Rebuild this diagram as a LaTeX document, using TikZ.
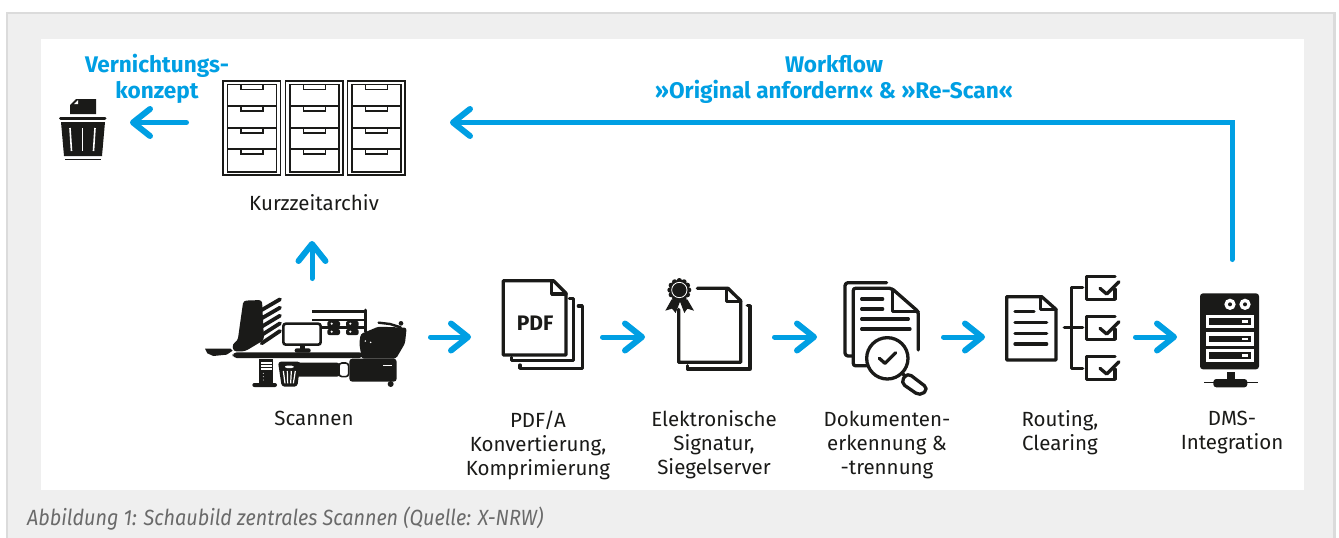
\documentclass[tikz,border=0pt]{standalone}
\usepackage{fontspec}
\usetikzlibrary{arrows.meta}
\setmainfont{Fira Sans}
\newfontfamily\capfont[FakeStretch=0.9]{Fira Sans}
\definecolor{flowblue}{HTML}{009FE3}
\definecolor{ink}{HTML}{1A1A18}
\definecolor{panel}{HTML}{EFEFEF}
\definecolor{captiongrey}{HTML}{6A6A6A}
\tikzset{
  x=1pt,y=-1pt,
  flow/.style={draw=flowblue,line width=5pt,line cap=round,line join=miter,shorten <=2.5pt,
    -{Straight Barb[round,length=17pt,width=27pt,line width=6pt]}},
  iconbox/.style={inner sep=0pt,outer sep=0pt,minimum height=#1},
  label/.style={font=\fontsize{20.5}{24}\selectfont,text=ink,align=center,inner sep=0pt},
  bluelabel/.style={font=\fontsize{22.6}{26}\selectfont\bfseries,text=flowblue,align=center,inner sep=0pt},
  icon/.style={draw=ink,line width=3.3pt,line join=round,line cap=round},
  thinicon/.style={draw=ink,line width=1.5pt},
  iconscope/.style={scale=0.33333},
}
\begin{document}
\begin{tikzpicture}
\useasboundingbox (0,0) rectangle (1339,538);
\fill[white] (0,0) rectangle (1339,538);
\fill[black!14] (6,12) rectangle (1336,538);
\fill[panel] (8,14) rectangle (1333,538);
\fill[white] (41,39) rectangle (1304,490);

% connector anchors (invisible boxes around the icons)
\node[iconbox=112pt,minimum width=232pt] (scan) at (312,337) {};
\node[iconbox=112pt,minimum width=129pt] (pdf) at (535.5,337) {};
\node[iconbox=112pt,minimum width=127pt] (sig) at (708.5,337) {};
\node[iconbox=112pt,minimum width=124pt] (doc) at (879,337) {};
\node[iconbox=112pt,minimum width=148pt] (route) at (1059,337) {};
\node[iconbox=150pt,minimum width=110pt] (dms) at (1232,337) {};
\node[iconbox=237pt,minimum width=261pt] (archive) at (319.5,122.5) {};
\node[iconbox=50pt,minimum width=94pt] (trash) at (83,122.5) {};

% filing cabinets
\foreach \cx in {223,285.5,347.5}{
  \begin{scope}[shift={(\cx,81)}]
    \draw[thinicon] (0,0) rectangle (57.5,94);
    \draw[thinicon] (4.5,3.5) rectangle (53.5,91);
    \foreach \dy in {3.5,25,47,68}{
      \draw[thinicon] (18,\dy) -- (18,\dy+5) -- (40,\dy+5) -- (40,\dy);
    }
    \foreach \dy in {25,47,68}{ \draw[thinicon] (4.5,\dy) -- (53.5,\dy); }
  \end{scope}
}

% bin with paper
\fill[ink] (70,114) -- (70,105) -- (76,99) -- (96,99) -- (96,114) -- cycle;
\fill[white] (74,104) -- (78,100) -- (78,104) -- cycle;
\draw[ink,line width=3pt,line cap=round] (60.5,118) -- (105,118);
\fill[ink] (61,122) -- (105,122) -- (102,156) -- (64,156) -- cycle;
\draw[ink,line width=1.6pt] (65,159.5) -- (101,159.5);
\foreach \a/\b in {70/71.5,82.5/82.5,95/93.5}{
  \draw[white,line width=1.6pt] (\a,128) -- (\b,151);
}

% scanning station
\begin{scope}[shift={(190,260)},iconscope]
  \fill[ink,rounded corners=3pt] (160,122) -- (216,120) -- (222,240) -- (165,274) -- (130,274)
     -- (127,252) -- (143,242) -- cycle;
  \foreach \ya/\yb in {150/118,175/143,200/167,225/190,250/213}{
    \draw[ink,line width=3.8pt,line cap=round] (215,\ya) -- (270,\yb);
  }
  \fill[ink] (45,266) -- (122,266) -- (128,272) -- (110,284) -- (70,288) -- (52,280) -- cycle;
  \fill[ink,rounded corners=4pt] (128,277) rectangle (520,294);
  % shelf
  \foreach \y in {155,180,203}{\draw[ink,line width=2.6pt] (366,\y) -- (528,\y);}
  \draw[ink,line width=3pt,line cap=round] (526,150) -- (526,215);
  \foreach \x in {412,468}{
    \foreach \y in {183,207}{
      \fill[ink,rounded corners=2pt] (\x,\y) rectangle (\x+38,\y+18);
      \fill[white] (\x+13,\y+8) circle[radius=3.5];
    }
  }
  % monitor
  \fill[ink] (330,250) rectangle (346,268);
  \fill[ink,rounded corners=2pt] (314,265) rectangle (362,278);
  \draw[ink,line width=2.6pt,fill=white,rounded corners=2.5pt] (280,191) rectangle (392,254);
  % right-hand machine
  \fill[ink,rounded corners=2.5pt] (512,222) -- (565,200) -- (650,203) -- (645,250) -- (618,296)
     -- (515,296) -- (508,250) -- cycle;
  \draw[ink,line width=2.4pt,line cap=round] (566,188) -- (600,192) -- (632,202);
  \fill[ink] (633,190) circle[radius=7];
  \fill[white] (526,243) circle[radius=2.5] (542,247) circle[radius=2.5];
  \fill[ink,rounded corners=3pt] (478,296) rectangle (620,365);
  \fill[white] (580,315) rectangle (607,319);
  \fill[ink] (602,372) circle[radius=9];
  % tower
  \fill[ink] (208,298) rectangle (250,372);
  \fill[ink,rounded corners=2pt] (187,369) rectangle (261,381);
  \foreach \y in {305,315,325}{\fill[white] (213,\y) rectangle (245,\y+6);}
  \foreach \y in {340,350,360}{\fill[white] (220,\y) circle[radius=1.5];}
  % long bar and waste bin
  \fill[ink,rounded corners=3pt] (315,308) rectangle (450,350);
  \draw[ink,line width=1.6pt,fill=white,rounded corners=3pt] (447,309) rectangle (476,350);
  \fill[ink,rounded corners=3pt] (264,305) -- (332,305) -- (322,380) -- (275,380) -- cycle;
  \fill[white,rounded corners=2pt] (285,317) rectangle (311,324);
  \foreach \a/\b in {280/285,292/293,304/302,316/310}{
    \draw[white,line width=1.2pt] (\a,333) -- (\b,370);
  }
\end{scope}

% PDF stack
\begin{scope}[shift={(490,270)},iconscope]
  \draw[icon] (238,85) -- (250,85) -- (250,272) -- (65,272) -- (65,262);
  \draw[icon] (265,108) -- (277,108) -- (277,295) -- (90,295) -- (90,285);
  \draw[icon] (40,32) -- (190,32) -- (228,70) -- (228,255) -- (40,255) -- cycle;
  \draw[icon] (185,35) -- (185,72) -- (228,72);
  \node[inner sep=0pt,text=ink,font=\fontsize{21}{24}\selectfont\bfseries] (pdfmark) at (135,160) {PDF};
\end{scope}

% signed document
\begin{scope}[shift={(490,270)},iconscope]
  \draw[icon] (566,118) -- (566,277) -- (752,277) -- (752,92) -- (714,55) -- (622,55);
  \draw[icon] (710,57) -- (710,95) -- (752,95);
  \draw[icon] (772,107) -- (780,107) -- (780,297) -- (592,297) -- (592,287);
  \fill[ink] (545,88) -- (526,122) -- (546,116) -- (557,129) -- (570,95) -- (583,129) -- (592,116) -- (612,122) -- (592,88) -- cycle;
  \foreach \a in {0,30,...,330}{\fill[ink] (568,60)+(\a:28) circle[radius=8];}
  \fill[ink] (568,60) circle[radius=29];
  \draw[white,line width=0.8pt] (568,60) circle[radius=23];
\end{scope}

% recognition
\begin{scope}[shift={(830,270)},iconscope]
  \draw[icon,rounded corners=3pt] (170,38) -- (45,38) -- (45,258) -- (70,258);
  \draw[icon,rounded corners=2pt] (110,287) -- (70,287) -- (70,55) -- (185,55) -- (265,125) -- (265,240);
  \draw[icon] (188,58) -- (188,125) -- (265,125);
  \draw[icon] (95,87) -- (158,87) (95,117) -- (158,117) (95,147) -- (235,147) (95,177) -- (240,177);
  \draw[icon,fill=white] (172,265) circle[radius=62];
  \draw[icon] (148,265) -- (165,280) -- (197,248);
  \draw[icon] (215,308) -- (225,318);
  \draw[icon,fill=white,rounded corners=5pt] (232,308) -- (295,356) -- (270,378) -- (212,338) -- cycle;
\end{scope}

% routing
\begin{scope}[shift={(830,270)},iconscope]
  \draw[icon] (530,80) -- (635,80) -- (678,118) -- (678,270) -- (530,270) -- cycle;
  \draw[icon] (632,82) -- (632,118) -- (678,118);
  \draw[icon] (555,125) -- (612,125) (555,157) -- (650,157) (555,190) -- (650,190) (555,222) -- (650,222);
  \draw[icon] (758,53) -- (725,53) -- (725,295) -- (758,295) (703,173) -- (758,173);
  \foreach \dy in {0,120,240}{
    \begin{scope}[shift={(0,\dy)}]
      \draw[icon] (855,20) -- (770,20) -- (770,88) -- (855,88) -- (855,58);
      \draw[icon] (810,55) -- (830,72) -- (867,35);
    \end{scope}
  }
\end{scope}

% server
\begin{scope}[shift={(1130,270)},iconscope]
  \fill[ink,rounded corners=3pt] (210,298) -- (210,70) -- (387,70) -- (387,298) -- cycle;
  \foreach \x in {300,345}{
    \fill[white] (\x,103) circle[radius=17];
    \fill[ink] (\x,103) circle[radius=6];
  }
  \foreach \y in {135,187,237}{
    \fill[white] (227,\y) rectangle (372,\y+40);
    \fill[ink] (238,\y+10) rectangle (362,\y+30);
    \fill[white] (335,\y+16) rectangle (355,\y+23);
  }
  \fill[ink] (290,305) rectangle (315,335);
  \fill[ink,rounded corners=3pt] (250,327) rectangle (352,352);
  \draw[ink,line width=1.6pt] (222,338) -- (385,338);
\end{scope}

% labels
\node[bluelabel] (vn) at (157,79) {Vernichtungs-\\konzept};
\node[bluelabel] (wf) at (834,79) {Workflow\\»Original anfordern« \& »Re-Scan«};
\node[label] (l1) at (314,202.5) {Kurzzeitarchiv};
\node[label,anchor=north] (l2) at (314,410.5) {Scannen};
\node[label,anchor=north] (l3) at (538,410.5) {PDF/A\\Konvertierung,\\Komprimierung};
\node[label,anchor=north] (l4) at (714,410.5) {Elektronische\\Signatur,\\Siegelserver};
\node[label,anchor=north] (l5) at (887,410.5) {Dokumenten-\\erkennung \&\\-trennung};
\node[label,anchor=north] (l6) at (1060,410.5) {Routing,\\Clearing};
\node[label,anchor=north] (l7) at (1232,410.5) {DMS-\\Integration};
\node[anchor=base west,inner sep=0pt,text=captiongrey,font=\capfont\fontsize{22}{26}\selectfont\itshape] (cap) at (27,525) {Abbildung 1: Schaubild zentrales Scannen (Quelle: X-NRW)};

% connectors
\draw[flow] (scan.east) -- (pdf.west);
\draw[flow] (pdf.east) -- (sig.west);
\draw[flow] (sig.east) -- (doc.west);
\draw[flow] (doc.east) -- (route.west);
\draw[flow] (route.east) -- (dms.west);
\draw[flow] (scan.north) -- (scan.north |- archive.south);
\draw[flow] (archive.west) -- (trash.east);
\draw[flow] (dms.north) |- (archive.east);
\end{tikzpicture}
\end{document}
